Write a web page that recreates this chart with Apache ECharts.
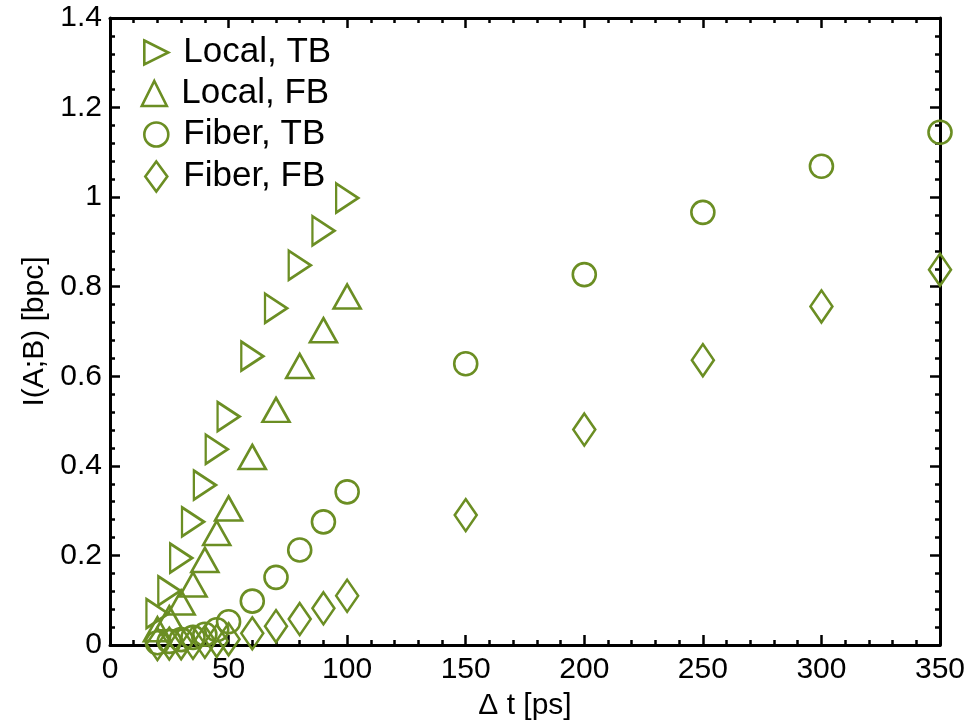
<!DOCTYPE html>
<html>
<head>
<meta charset="utf-8">
<title>I(A;B) vs Δt</title>
<script src="https://cdn.jsdelivr.net/npm/echarts@6/dist/echarts.min.js"></script>
<style>
  html, body { margin: 0; padding: 0; background: #ffffff; }
  #chart { width: 976px; height: 727px; }
</style>
</head>
<body>
<div id="chart"></div>
<script>
// Mutual information per channel use versus time-bin width
const seriesNames = ['Local, TB', 'Local, FB', 'Fiber, TB', 'Fiber, FB'];

const localT = [20, 25, 30, 35, 40, 45, 50, 60, 70, 80, 90, 100];
const localTB = [0.070, 0.121, 0.194, 0.275, 0.357, 0.437, 0.510, 0.645, 0.752, 0.848, 0.925, 0.998];
const localFB = [0.035, 0.060, 0.095, 0.135, 0.190, 0.250, 0.305, 0.420, 0.525, 0.623, 0.703, 0.778];

const fiberT = [20, 25, 30, 35, 40, 45, 50, 60, 70, 80, 90, 100, 150, 200, 250, 300, 350];
const fiberTB = [0.005, 0.008, 0.012, 0.017, 0.024, 0.034, 0.052, 0.098, 0.151, 0.212, 0.275, 0.342, 0.628, 0.827, 0.966, 1.069, 1.145];
const fiberFB = [0.002, 0.003, 0.004, 0.005, 0.007, 0.009, 0.013, 0.026, 0.042, 0.058, 0.082, 0.110, 0.290, 0.481, 0.636, 0.756, 0.838];

const xTickLabels = ['0', '50', '100', '150', '200', '250', '300', '350'];
const yTickLabels = ['0', '0.2', '0.4', '0.6', '0.8', '1', '1.2', '1.4'];

const GREEN = '#6b8e23';
const FONT = 'Liberation Sans, Arial, Helvetica, sans-serif';
const STROKE = 2.6;

const pairs = (xs, ys) => xs.map((x, i) => [x, ys[i]]);

const SYM_RIGHT = 'path://M0,0 L1,0.5 L0,1 Z';
const SYM_UP = 'path://M0.5,0 L1,1 L0,1 Z';

const markerStyle = {
  color: 'rgba(0,0,0,0)',
  borderColor: GREEN,
  borderWidth: STROKE,
  opacity: 1
};

function frameAxis(position, isX, showLabels) {
  return {
    type: 'value',
    position: position,
    min: 0,
    max: isX ? 350 : 1.4,
    interval: isX ? 50 : 0.2,
    axisLine: { show: true, onZero: false, lineStyle: { color: '#000', width: 3 } },
    axisTick: { show: true, inside: true, length: 10, lineStyle: { color: '#000', width: 2.5 } },
    minorTick: { show: true, splitNumber: 5, length: 5, lineStyle: { color: '#000', width: 2.5 } },
    splitLine: { show: false },
    minorSplitLine: { show: false },
    axisLabel: {
      show: showLabels,
      color: '#000',
      fontFamily: FONT,
      fontSize: 30,
      margin: isX ? 10 : 8,
      formatter: function (v) {
        const labels = isX ? xTickLabels : yTickLabels;
        const idx = Math.round(v / (isX ? 50 : 0.2));
        return labels[idx] !== undefined ? labels[idx] : '';
      }
    }
  };
}

const xMain = frameAxis('bottom', true, true);
xMain.name = 'Δ t [ps]';
xMain.nameLocation = 'middle';
xMain.nameGap = 46;
xMain.nameTextStyle = { color: '#000', fontFamily: FONT, fontSize: 30 };

const yMain = frameAxis('left', false, true);
yMain.name = 'I(A;B) [bpc]';
yMain.nameLocation = 'middle';
yMain.nameGap = 60;
yMain.nameTextStyle = { color: '#000', fontFamily: FONT, fontSize: 30 };

const xTop = frameAxis('top', true, false);
const yRight = frameAxis('right', false, false);

// One legend block per series so each icon keeps its own shape size
function legendFor(name, centerY, w, h) {
  return {
    data: [name],
    left: 155 - w / 2,
    top: centerY - 18,
    padding: 0,
    itemWidth: w,
    itemHeight: h,
    selectedMode: false,
    itemStyle: { color: 'rgba(0,0,0,0)', borderColor: GREEN, borderWidth: STROKE, opacity: 1 },
    textStyle: {
      color: '#000', fontFamily: FONT, fontSize: 35,
      padding: [0, 0, 0, 22 - w / 2]
    }
  };
}

const option = {
  backgroundColor: '#ffffff',
  animation: false,
  grid: { left: 110, right: 36, top: 18, bottom: 82, containLabel: false },
  xAxis: [xMain, xTop],
  yAxis: [yMain, yRight],
  legend: [
    legendFor(seriesNames[0], 53, 24, 26),
    legendFor(seriesNames[1], 94, 29, 25),
    legendFor(seriesNames[2], 135, 24, 24),
    legendFor(seriesNames[3], 177, 22, 30)
  ],
  series: [
    {
      name: seriesNames[0], type: 'scatter', clip: false,
      symbol: SYM_RIGHT, symbolSize: [22, 29],
      itemStyle: markerStyle,
      data: pairs(localT, localTB)
    },
    {
      name: seriesNames[1], type: 'scatter', clip: false,
      symbol: SYM_UP, symbolSize: [27, 24],
      itemStyle: markerStyle,
      data: pairs(localT, localFB)
    },
    {
      name: seriesNames[2], type: 'scatter', clip: false,
      symbol: 'circle', symbolSize: 23,
      itemStyle: markerStyle,
      data: pairs(fiberT, fiberTB)
    },
    {
      name: seriesNames[3], type: 'scatter', clip: false,
      symbol: 'diamond', symbolSize: [22, 32],
      itemStyle: markerStyle,
      data: pairs(fiberT, fiberFB)
    }
  ]
};

const chart = echarts.init(document.getElementById('chart'), null, { renderer: 'canvas' });
chart.setOption(option);
</script>
</body>
</html>
